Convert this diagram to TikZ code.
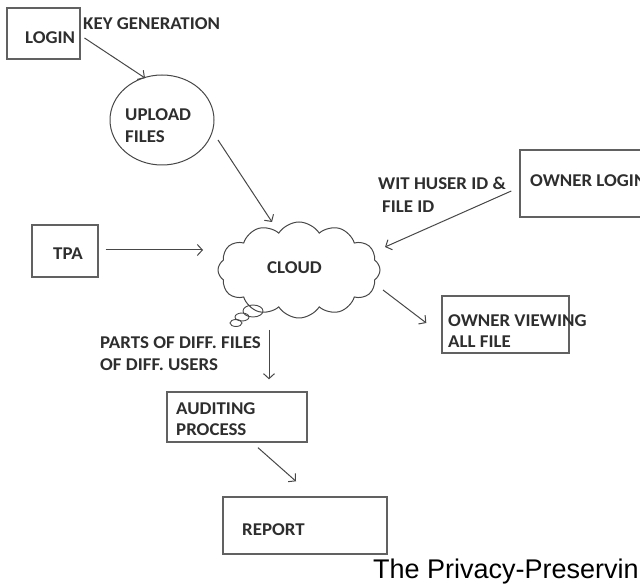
\documentclass[tikz,border=0pt]{standalone}
\usepackage{fontspec}
\setmainfont{Carlito}
\newfontfamily\lblfont{Carlito}[FakeStretch=1.05]
\newfontfamily\capfont{Liberation Sans}
\usetikzlibrary{shapes.symbols,shapes.geometric,arrows.meta,calc}
\begin{document}
\begin{tikzpicture}[x=1pt,y=-1pt,
  lbl/.style={font=\lblfont\bfseries\fontsize{18}{21}\selectfont, text=black!82, inner sep=0pt, anchor=west},
  boxnode/.style={draw=black!62, line width=1.4pt, inner sep=0pt},
  conn/.style={draw=black!72, line width=1pt, -{Straight Barb[length=5pt,width=11pt]}},
]
\useasboundingbox (0,0) rectangle (640,585);
\clip (0,0) rectangle (640,585);

% boxes and shapes
\node[boxnode, minimum width=73pt, minimum height=51pt] (login) at (43.5,33.5) {};
\node[boxnode, draw=black!72, line width=1pt, ellipse, minimum width=104pt, minimum height=90pt] (upload) at (162,120) {};
\node[boxnode, cloud, cloud puffs=12, cloud puff arc=115, draw=black!72, line width=1pt, minimum width=162pt, minimum height=96pt] (cloud) at (299,270) {};
\node[boxnode, draw=black!72, line width=0.9pt, ellipse, minimum width=20pt, minimum height=12pt] (b1) at (253,311) {};
\node[boxnode, draw=black!72, line width=0.9pt, ellipse, minimum width=14pt, minimum height=8pt] (b2) at (242,317) {};
\node[boxnode, draw=black!72, line width=0.9pt, ellipse, minimum width=12pt, minimum height=7pt] (b3) at (236,323) {};
\node[boxnode, minimum width=66pt, minimum height=52pt] (tpa) at (65,251) {};
\node[boxnode, minimum width=140pt, minimum height=67pt] (ownerlogin) at (590,183.5) {};
\node[boxnode, minimum width=127pt, minimum height=57pt] (ownerview) at (505.5,324.5) {};
\node[boxnode, minimum width=140pt, minimum height=50pt] (audit) at (237,417) {};
\node[boxnode, minimum width=164pt, minimum height=57pt] (report) at (305,525.5) {};

% labels
\node[lbl] (tkey) at (83,24) {KEY GENERATION};
\node[lbl] (tlogin) at (25,38) {LOGIN};
\node[lbl] (tupload) at (125,115) {UPLOAD};
\node[lbl] (tfiles) at (125,137) {FILES};
\node[lbl] (tcloud) at (267,268) {CLOUD};
\node[lbl] (ttpa) at (53,254) {TPA};
\node[lbl] (twit) at (378,183) {WIT HUSER ID \&};
\node[lbl] (tfileid) at (382,207) {FILE ID};
\node[lbl] (townerlogin) at (530,181) {OWNER LOGIN};
\node[lbl] (townerview) at (448,321) {OWNER VIEWING};
\node[lbl] (tallfile) at (448,342) {ALL FILE};
\node[lbl] (tparts) at (100,343) {PARTS OF DIFF. FILES};
\node[lbl] (tusers) at (100,365) {OF DIFF. USERS};
\node[lbl] (taudit) at (176,409) {AUDITING};
\node[lbl] (tprocess) at (176,430) {PROCESS};
\node[lbl] (treport) at (242,530) {REPORT};
\node[anchor=base west, inner sep=0pt, font=\capfont\fontsize{27}{32}\selectfont] (caption) at (373,578) {The Privacy-Preservin};

% connectors
\draw[conn] ($(login.center)+(41,4.5)$) -- ($(upload.center)+(-17,-42)$);
\draw[conn] ($(upload.center)+(56,20)$) -- ($(cloud.center)+(-27,-48)$);
\draw[conn] ($(tpa.east)+(7,-1)$) -- ($(cloud.center)+(-96,-20)$);
\draw[conn] ($(ownerlogin.west)+(-8,7.5)$) -- ($(cloud.center)+(86,-23)$);
\draw[conn] ($(cloud.center)+(84,20)$) -- ($(ownerview.west)+(-15,-1.5)$);
\draw[conn] ($(cloud.center)+(-30,60)$) -- ($(audit.north)+(32,-12)$);
\draw[conn] ($(audit.south)+(21,5)$) -- ($(report.north)+(-9,-15)$);
\end{tikzpicture}
\end{document}
